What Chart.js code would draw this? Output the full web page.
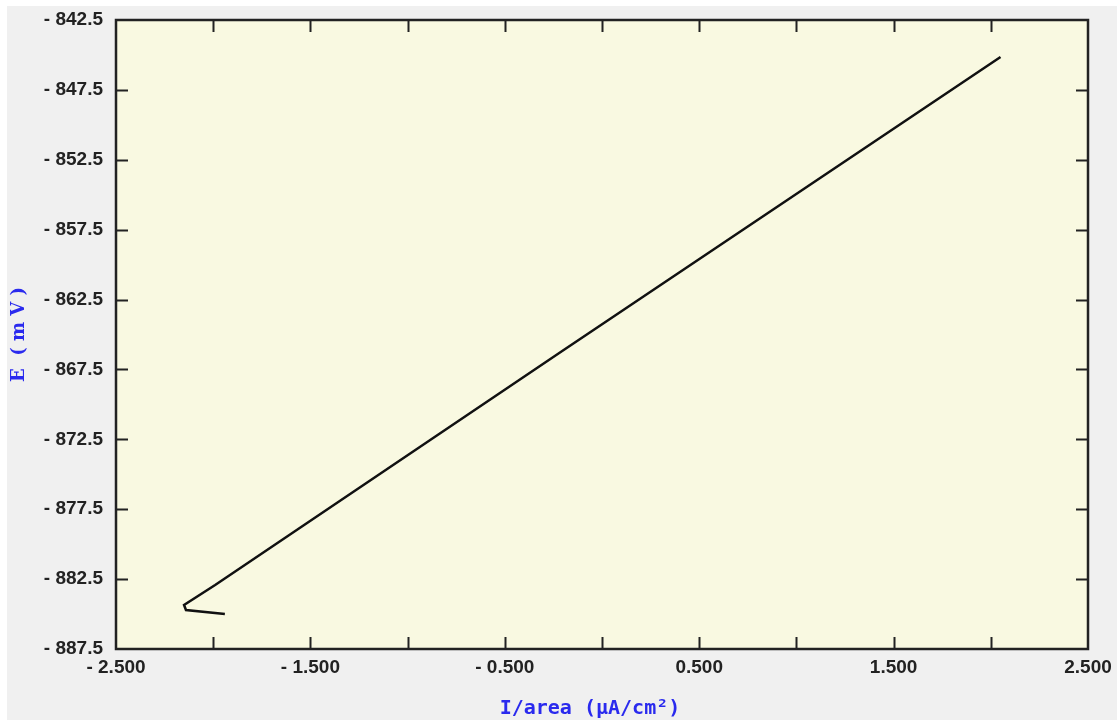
<!DOCTYPE html>
<html>
<head>
<meta charset="utf-8">
<script src="https://cdn.jsdelivr.net/npm/chart.js@4.4.1/dist/chart.umd.min.js"></script>
<style>
  html, body { margin: 0; padding: 0; background: #ffffff; }
  #wrap { position: absolute; left: 0; top: 0; width: 1117px; height: 721px; }
  #panel { position: absolute; left: 7px; top: 6px; width: 1110px; height: 714px; background: #f0f0f0; }
  canvas { position: absolute; left: 0; top: 0; }
</style>
</head>
<body>
<div id="wrap">
  <div id="panel"></div>
  <canvas id="c" width="1117" height="721"></canvas>
</div>
<script>
// Data
const currentDensity = [-1.94, -2.14, -2.15, -1.99, -0.22, 2.05];      // I/area (µA/cm²)
const potential      = [-885.0, -884.71, -884.35, -882.92, -866.32, -845.15]; // E (mV)

const xTickValues = [-2.5, -2.0, -1.5, -1.0, -0.5, 0.0, 0.5, 1.0, 1.5, 2.0, 2.5];
const xTickLabels = ['- 2.500', '', '- 1.500', '', '- 0.500', '', '0.500', '', '1.500', '', '2.500'];
const yTickValues = [-887.5, -882.5, -877.5, -872.5, -867.5, -862.5, -857.5, -852.5, -847.5, -842.5];
const yTickLabels = ['- 887.5', '- 882.5', '- 877.5', '- 872.5', '- 867.5', '- 862.5', '- 857.5', '- 852.5', '- 847.5', '- 842.5'];

const points = currentDensity.map((x, i) => ({ x: x, y: potential[i] }));

const frame = {
  id: 'frame',
  beforeDraw(chart) {
    const { ctx, chartArea: a } = chart;
    ctx.save();
    ctx.fillStyle = '#f9f9e1';
    ctx.fillRect(a.left, a.top, a.right - a.left, a.bottom - a.top);
    ctx.restore();
  },
  afterDatasetsDraw(chart) {
    const { ctx, chartArea: a, scales } = chart;
    ctx.save();
    ctx.strokeStyle = '#222222';
    ctx.lineWidth = 2;
    const L = 12;
    xTickValues.forEach(v => {
      const px = Math.round(scales.x.getPixelForValue(v)) + 0.5;
      if (v === xTickValues[0] || v === xTickValues[xTickValues.length - 1]) return;
      ctx.beginPath();
      ctx.moveTo(px, a.bottom); ctx.lineTo(px, a.bottom - L);
      ctx.moveTo(px, a.top); ctx.lineTo(px, a.top + L);
      ctx.stroke();
    });
    yTickValues.forEach(v => {
      const py = Math.round(scales.y.getPixelForValue(v)) + 0.5;
      if (v === yTickValues[0] || v === yTickValues[yTickValues.length - 1]) return;
      ctx.beginPath();
      ctx.moveTo(a.left, py); ctx.lineTo(a.left + L, py);
      ctx.moveTo(a.right, py); ctx.lineTo(a.right - L, py);
      ctx.stroke();
    });
    ctx.lineWidth = 2.5;
    ctx.strokeRect(a.left, a.top, a.right - a.left, a.bottom - a.top);
    ctx.restore();
  }
};

new Chart(document.getElementById('c'), {
  type: 'scatter',
  data: {
    datasets: [{
      data: points,
      showLine: true,
      borderColor: '#111111',
      borderWidth: 2.5,
      pointRadius: 0,
      tension: 0
    }]
  },
  options: {
    responsive: false,
    animation: false,
    devicePixelRatio: 1,
    layout: { padding: { top: 20, right: 29, left: 0, bottom: 0 } },
    plugins: { legend: { display: false }, tooltip: { enabled: false } },
    scales: {
      x: {
        type: 'linear',
        min: -2.5, max: 2.5,
        afterBuildTicks(scale) { scale.ticks = xTickValues.map(v => ({ value: v })); },
        afterFit(scale) { scale.height = 72; scale.paddingLeft = 0; scale.paddingRight = 0; },
        grid: { display: false, drawTicks: false },
        border: { display: false },
        ticks: {
          padding: 7,
          maxRotation: 0,
          autoSkip: false,
          color: '#222222',
          font: { family: 'Liberation Sans', size: 19, weight: 'bold' },
          callback: (v, i) => xTickLabels[i]
        },
        title: {
          display: true,
          text: 'I/area (\u00B5A/cm\u00B2)  ',
          color: '#2a2aee',
          font: { family: 'DejaVu Sans Mono', size: 20, weight: 'bold' },
          padding: { top: 4, bottom: 0 }
        }
      },
      y: {
        type: 'linear',
        min: -887.5, max: -842.5,
        afterBuildTicks(scale) { scale.ticks = yTickValues.map(v => ({ value: v })); },
        afterFit(scale) { scale.width = 116; scale.paddingTop = 0; scale.paddingBottom = 0; },
        grid: { display: false, drawTicks: false },
        border: { display: false },
        ticks: {
          padding: 13,
          autoSkip: false,
          color: '#222222',
          font: { family: 'Liberation Sans', size: 19, weight: 'bold' },
          callback: (v, i) => yTickLabels[i]
        },
        title: {
          display: true,
          text: 'E  ( m V )',
          color: '#2a2aee',
          font: { family: 'DejaVu Serif', size: 18, weight: 'bold' },
          padding: { top: 9, bottom: 0 }
        }
      }
    }
  },
  plugins: [frame]
});
</script>
</body>
</html>
